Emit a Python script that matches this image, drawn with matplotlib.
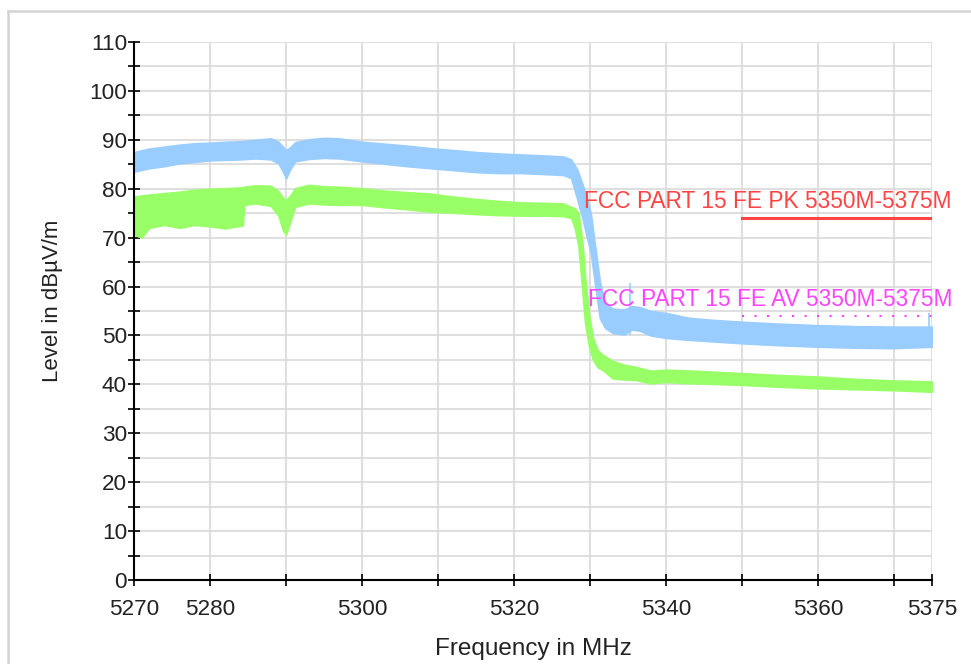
import matplotlib
matplotlib.use("Agg")
import matplotlib.pyplot as plt
from matplotlib.lines import Line2D

plt.rcParams['font.family'] = ['Liberation Sans', 'DejaVu Sans']

# peak detector trace (envelope of the sweep)
pk_freq = [5270, 5272, 5274, 5276, 5278, 5280, 5282, 5284, 5286, 5288, 5289,
           5289.6, 5290, 5290.5, 5291.2, 5293, 5295, 5297, 5300, 5303, 5306,
           5309, 5312, 5315, 5318, 5321, 5324, 5326.5, 5327.5, 5328.3, 5329,
           5329.6, 5330.1, 5330.7, 5331.3, 5332, 5333, 5334.5, 5335.5, 5336.5,
           5338, 5340, 5343, 5346, 5350, 5355, 5360, 5365, 5370, 5375]
pk_upper = [87.5, 88.2, 88.6, 89.0, 89.3, 89.4, 89.6, 89.7, 90.0, 90.3, 89.6,
            88.6, 87.9, 88.4, 89.5, 90.1, 90.4, 90.3, 89.6, 89.2, 88.8,
            88.3, 87.9, 87.5, 87.2, 87.0, 86.8, 86.6, 86.0, 84.0, 81.0,
            78.0, 75.0, 68.0, 61.0, 56.5, 55.5, 55.3, 56.0, 55.8,
            55.0, 54.6, 53.6, 53.2, 52.8, 52.4, 52.1, 51.9, 51.8, 51.8]
pk_lower = [83.5, 84.2, 84.6, 85.2, 85.5, 85.8, 85.9, 86.0, 86.2, 86.0, 85.2,
            83.5, 82.1, 83.8, 85.6, 86.1, 86.3, 86.2, 85.6, 85.1, 84.6,
            84.2, 83.8, 83.4, 83.2, 83.2, 83.0, 82.8, 82.2, 78.0, 74.0,
            70.0, 67.0, 60.0, 53.5, 51.5, 50.5, 50.2, 51.2, 51.0,
            50.0, 49.5, 49.1, 48.8, 48.4, 48.0, 47.7, 47.5, 47.4, 47.7]
pk_spike_freq = [5335.3, 5374.6]
pk_spike_top = [60.7, 54.5]

# average detector trace
av_freq = [5270, 5271, 5272, 5274, 5276, 5278, 5280, 5282, 5284.3, 5284.5,
           5286, 5288, 5289, 5289.6, 5290, 5290.5, 5291.2, 5293, 5295, 5297,
           5300, 5303, 5306, 5309, 5312, 5315, 5318, 5321, 5324, 5326.5,
           5327.5, 5328, 5328.5, 5329, 5329.35, 5329.9, 5330.4, 5331,
           5331.7, 5333, 5334.5, 5336, 5338, 5340, 5342, 5346, 5350, 5355,
           5360, 5365, 5370, 5375]
av_upper = [78.4, 78.6, 78.8, 79.1, 79.4, 79.8, 80.0, 80.1, 80.3, 80.4,
            80.7, 80.6, 79.5, 78.2, 77.7, 78.5, 80.1, 80.8, 80.5, 80.4,
            80.1, 79.6, 79.3, 79.0, 78.4, 77.9, 77.5, 77.2, 77.1, 77.0,
            76.3, 76.0, 75.0, 69.0, 62.0, 54.0, 49.5, 47.0,
            46.0, 44.8, 44.0, 43.6, 42.8, 43.0, 42.9, 42.6, 42.3, 41.9,
            41.6, 41.1, 40.8, 40.6]
av_lower = [70.6, 70.0, 72.0, 72.6, 72.0, 72.6, 72.3, 71.9, 72.5, 76.7,
            77.0, 76.5, 74.5, 71.5, 70.6, 73.0, 76.3, 77.0, 76.8, 76.7,
            76.7, 76.2, 75.8, 75.3, 75.1, 74.8, 74.6, 74.5, 74.5, 74.4,
            74.0, 72.0, 68.0, 59.0, 52.5, 47.5, 45.0, 43.5,
            42.9, 41.2, 41.0, 40.9, 40.2, 40.5, 40.3, 40.1, 39.9, 39.5,
            39.2, 39.0, 38.8, 38.5]

# limit lines
limit_start, limit_stop = 5350, 5375
pk_limit = 74
av_limit = 54
pk_limit_label = "FCC PART 15 FE PK 5350M-5375M"
av_limit_label = "FCC PART 15 FE AV 5350M-5375M"

x_ticks = [5270, 5280, 5290, 5300, 5310, 5320, 5330, 5340, 5350, 5360, 5370, 5375]
x_tick_labels = ["5270", "5280", "", "5300", "", "5320", "", "5340", "", "5360", "", "5375"]
y_ticks = list(range(0, 111, 10))
y_minor = list(range(5, 110, 10))

blue = "#99ccff"
green = "#99ff66"
red = "#ff4444"
magenta = "#ff44ff"
text_col = "#222222"

fig = plt.figure(figsize=(9.71, 6.64), dpi=100)
ax = fig.add_axes([134 / 971, 84 / 664, 798 / 971, 538 / 664])

ax.fill_between(pk_freq, pk_lower, pk_upper, color=blue, lw=1.2, zorder=2)
ax.vlines(pk_spike_freq, [50, 48], pk_spike_top, color=blue, lw=1.2, zorder=2)
ax.fill_between(av_freq, av_lower, av_upper, color=green, lw=1.2, zorder=3)

ax.plot([limit_start, limit_stop], [pk_limit, pk_limit], color=red, lw=2.2, zorder=4)
ax.plot([limit_start, limit_stop], [av_limit, av_limit], color=magenta, lw=1.5,
        ls=(0, (1, 5)), zorder=4)
ax.annotate(pk_limit_label, xy=(limit_stop, pk_limit), xytext=(20, 5),
            textcoords='offset pixels', ha='right', va='bottom',
            color=red, fontsize=16.4, zorder=5)
ax.annotate(av_limit_label, xy=(limit_stop, av_limit), xytext=(20, 5),
            textcoords='offset pixels', ha='right', va='bottom',
            color=magenta, fontsize=16.4, zorder=5)

ax.set_xlim(5270, 5375)
ax.set_ylim(0, 110)
ax.set_xticks(x_ticks)
ax.set_xticklabels(x_tick_labels)
ax.set_yticks(y_ticks)
ax.set_yticks(y_minor, minor=True)
ax.tick_params(which='both', direction='inout', length=8, width=1.2,
               labelsize=16.2, color='black', labelcolor=text_col)
ax.tick_params(axis='x', pad=10)
ax.tick_params(axis='y', pad=1)
ax.grid(True, which='both', color='#d9d9d9', lw=1.2, zorder=0)
ax.set_axisbelow(True)

for side in ['top', 'right']:
    ax.spines[side].set_visible(False)
for side in ['left', 'bottom']:
    ax.spines[side].set_linewidth(1.5)
    ax.spines[side].set_zorder(6)

ax.set_xlabel("Frequency in MHz", fontsize=17.5, color=text_col, labelpad=13)
ax.set_ylabel("Level in dBµV/m", fontsize=16, color=text_col)
ax.yaxis.set_label_coords(-0.089, 0.519)

# light frame around the chart panel
fig.add_artist(Line2D([8 / 971, 1], [1 - 11 / 664, 1 - 11 / 664],
                      transform=fig.transFigure, color='#d4d4d4', lw=1.8))
fig.add_artist(Line2D([8 / 971, 8 / 971], [0, 1 - 11 / 664],
                      transform=fig.transFigure, color='#d4d4d4', lw=1.8))

fig.savefig("out.png", dpi=100, facecolor='white')
